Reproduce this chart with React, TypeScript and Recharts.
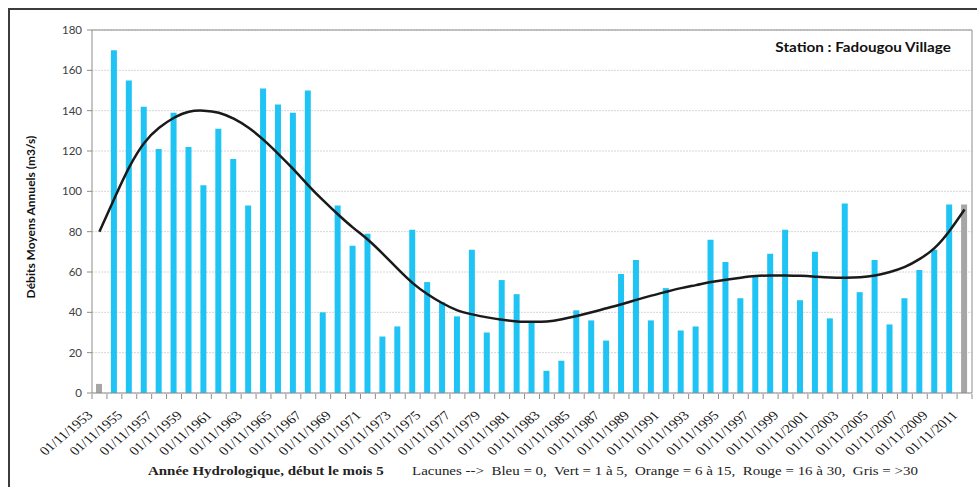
import { ComposedChart, Bar, Line, XAxis, YAxis, CartesianGrid, Cell } from 'recharts'

const YEARS = [
  1953, 1954, 1955, 1956, 1957, 1958, 1959, 1960, 1961, 1962, 1963, 1964, 1965, 1966, 1967,
  1968, 1969, 1970, 1971, 1972, 1973, 1974, 1975, 1976, 1977, 1978, 1979, 1980, 1981, 1982,
  1983, 1984, 1985, 1986, 1987, 1988, 1989, 1990, 1991, 1992, 1993, 1994, 1995, 1996, 1997,
  1998, 1999, 2000, 2001, 2002, 2003, 2004, 2005, 2006, 2007, 2008, 2009, 2010, 2011,
]

// débits moyens annuels (m3/s)
const FLOWS = [
  4.5, 170, 155, 142, 121, 139, 122, 103, 131, 116, 93, 151, 143, 139, 150,
  40, 93, 73, 79, 28, 33, 81, 55, 45, 38, 71, 30, 56, 49, 35,
  11, 16, 41, 36, 26, 59, 66, 36, 52, 31, 33, 76, 65, 47, 58,
  69, 81, 46, 70, 37, 94, 50, 66, 34, 47, 61, 71, 93.5, 93.5,
]

// courbe de tendance
const TREND = [
  80, 96.5, 112, 124, 131.5, 136.5, 139.5, 140, 139, 136, 131.5, 125.5, 118.5, 111, 103,
  95.5, 88.5, 82, 76, 69, 61.5, 54.5, 49, 44.5, 41, 39, 37.5, 36.3, 35.5, 35.3,
  35.5, 36.6, 38.2, 40, 42, 44, 46.2, 48.3, 50.2, 52, 53.5, 55, 56.2, 57.2, 58,
  58.3, 58.3, 58.1, 57.7, 57.3, 57.2, 57.4, 58.3, 60, 62.5, 66.5, 72, 80.5, 91,
]

// années avec lacunes > 30 jours (gris)
const GREY_YEARS = [1953, 2011]

const Y_TICKS = [0, 20, 40, 60, 80, 100, 120, 140, 160, 180]

const W = 977
const H = 487
const PLOT_LEFT = 92
const RIGHT_AXIS_W = 5
const PLOT_TOP = 29
const X_AXIS_H = 94
const BAND = (W - PLOT_LEFT - RIGHT_AXIS_W) / YEARS.length
const STRETCH = 1.15
const LABEL_STRETCH = 1.2

const data = YEARS.map((year, i) => ({ year, flow: FLOWS[i], trend: TREND[i] }))

const AXIS_GREY = '#8c8c8c'
const SERIF = "'Liberation Serif', 'Times New Roman', serif"
const SANS = 'Lato, sans-serif'

function YearTick(props: any) {
  const { x, y, payload, index } = props
  const top = y - 7
  const lx = x - BAND / 2
  const tx = x - 6
  const ty = y + 15
  return (
    <g>
      <line x1={lx} y1={top} x2={lx} y2={top + 5} stroke={AXIS_GREY} />
      {index === YEARS.length - 1 && (
        <line x1={x + BAND / 2} y1={top} x2={x + BAND / 2} y2={top + 5} stroke={AXIS_GREY} />
      )}
      {index % 2 === 0 && (
        <text
          x={0}
          y={0}
          textAnchor="end"
          transform={`translate(${tx}, ${ty}) scale(${LABEL_STRETCH}, 1) rotate(-45)`}
          fontFamily={SERIF}
          fontSize={12.5}
          fill="#111"
        >
          {`01/11/${payload.value}`}
        </text>
      )}
    </g>
  )
}

export default function App() {
  return (
    <div
      style={{
        position: 'absolute',
        left: 0,
        top: 0,
        width: W,
        height: H,
        overflow: 'hidden',
        background: '#fff',
      }}
    >
      <div
        style={{
          position: 'absolute',
          left: 8,
          top: 8,
          width: 1200,
          height: 1200,
          border: '2px solid #3c3c3c',
        }}
      />
      <ComposedChart
        width={W}
        height={H}
        data={data}
        margin={{ top: PLOT_TOP, right: 0, left: 0, bottom: 0 }}
        barCategoryGap={0}
        style={{ position: 'absolute', left: 0, top: 0 }}
      >
        <CartesianGrid vertical={false} stroke="#d6d6d6" strokeDasharray="2 1" />
        <XAxis
          dataKey="year"
          interval={0}
          height={X_AXIS_H}
          tickLine={false}
          axisLine={{ stroke: AXIS_GREY }}
          tick={<YearTick />}
        />
        <XAxis
          xAxisId="top"
          dataKey="year"
          orientation="top"
          height={1}
          tick={false}
          tickLine={false}
          axisLine={{ stroke: AXIS_GREY }}
        />
        <YAxis
          domain={[0, 180]}
          ticks={Y_TICKS}
          width={PLOT_LEFT}
          tickSize={5}
          tickMargin={5}
          interval={0}
          axisLine={{ stroke: AXIS_GREY }}
          tickLine={{ stroke: AXIS_GREY }}
          tick={{ fontSize: 11.5, fill: '#404040', fontFamily: SANS }}
        />
        <YAxis
          yAxisId="right"
          orientation="right"
          width={RIGHT_AXIS_W}
          domain={[0, 180]}
          tick={false}
          tickLine={false}
          axisLine={{ stroke: AXIS_GREY }}
        />
        <Bar dataKey="flow" barSize={6} isAnimationActive={false}>
          {data.map((d) => (
            <Cell key={d.year} fill={GREY_YEARS.includes(d.year) ? '#a6a6a6' : '#20c4f4'} />
          ))}
        </Bar>
        <Line
          dataKey="trend"
          type="natural"
          stroke="#1a1a1a"
          strokeWidth={2.5}
          dot={false}
          activeDot={false}
          isAnimationActive={false}
        />
      </ComposedChart>

      <div
        style={{
          position: 'absolute',
          left: 30,
          top: 217,
          transform: 'translate(-50%, -50%) rotate(-90deg)',
          whiteSpace: 'nowrap',
          fontFamily: SANS,
          fontWeight: 700,
          fontSize: 12,
          color: '#111',
        }}
      >
        Débits Moyens Annuels (m3/s)
      </div>

      <div
        style={{
          position: 'absolute',
          right: 26,
          top: 40,
          fontFamily: SANS,
          fontWeight: 700,
          fontSize: 12.5,
          color: '#111',
          whiteSpace: 'nowrap',
          transform: 'scaleX(1.22)',
          transformOrigin: 'right center',
        }}
      >
        Station : Fadougou Village
      </div>

      <div
        style={{
          position: 'absolute',
          left: 148,
          top: 463,
          fontFamily: SERIF,
          fontWeight: 700,
          fontSize: 13,
          color: '#222',
          whiteSpace: 'nowrap',
          transform: `scaleX(${STRETCH})`,
          transformOrigin: 'left center',
        }}
      >
        Année Hydrologique, début le mois 5
      </div>
      <div
        style={{
          position: 'absolute',
          left: 412,
          top: 463,
          fontFamily: SERIF,
          fontSize: 13,
          color: '#222',
          whiteSpace: 'pre',
          transform: `scaleX(${STRETCH})`,
          transformOrigin: 'left center',
        }}
      >
        {'Lacunes -->  Bleu = 0,  Vert = 1 à 5,  Orange = 6 à 15,  Rouge = 16 à 30,  Gris = >30'}
      </div>
    </div>
  )
}
